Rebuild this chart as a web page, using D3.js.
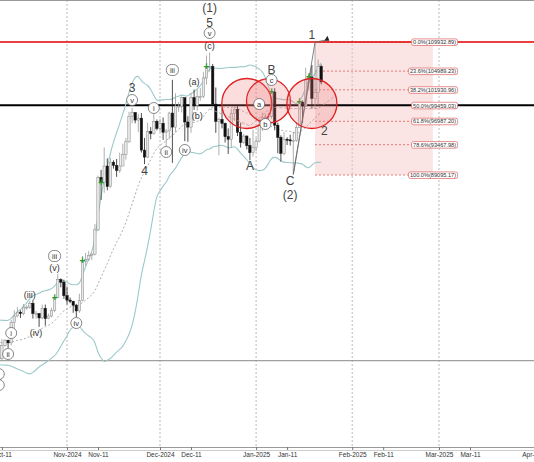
<!DOCTYPE html>
<html>
<head>
<meta charset="utf-8">
<script src="https://cdn.jsdelivr.net/npm/d3@7"></script>
<style>
body { margin: 0; background: #fff; }
text { font-family: "Liberation Sans", Arial, sans-serif; }
</style>
</head>
<body>
<div id="chart"></div>
<script>
// daily candles, first date 2024-09-19
var startDate = "2024-09-19";
var closes = [63000,63200,63300,63500,63300,64200,63100,65200,65800,65900,65600,63300,
  60800,60600,60700,62100,62100,62800,62200,62100,60600,60300,62400,63200,62800,66000,67000,67600,67400,68400,68400,69000,67400,67400,66700,68200,66600,67000,67900,69900,72700,72300,70200,
  69500,69300,68700,67800,69400,75600,75900,76500,76700,80500,88700,87900,90500,87300,91100,90600,89800,90500,92300,94300,98300,98900,97700,98000,93000,91900,95900,95600,97500,96400,
  97200,95800,96000,98800,96600,99900,99900,101200,97400,96600,101200,100000,101400,101400,104300,106000,106100,100200,97500,97800,97200,95100,94700,98700,99400,95800,94200,95200,93700,92600,93400,
  94400,96900,98100,98200,98300,102100,96900,95000,92500,94700,94600,94500,94500,96500,100500,99900,104100,104400,101100,102000,106100,103700];
var highs = [63900,64100,63600,64000,64700,64700,64800,65800,66500,66200,66100,65600,
  64100,62300,61400,62400,62300,63000,64400,63100,62500,61300,63400,63400,63300,66400,67900,68400,67900,68900,68700,69400,69500,67800,67400,68800,68800,67400,68300,70200,73600,72900,72700,
  71600,69900,69400,68900,70500,76400,76900,77200,76900,81400,89000,89900,93400,91700,91800,91400,91600,92600,94000,94900,99000,99600,98800,98600,98800,94900,97300,96600,98700,97800,
  97900,98100,96300,99000,104000,101900,100500,101400,101200,98300,101900,102500,102500,102700,105200,107800,108300,106500,102800,98100,99500,97300,96400,99500,99900,99900,97300,95500,95300,94900,96200,
  94900,97800,98900,98700,98800,102500,102700,97300,95300,95800,95000,95400,95900,97300,100700,100800,105900,104900,106300,109900,107200,106400];
var lows = [61600,62400,62800,62400,62700,62800,62700,62800,64800,65400,65400,62900,
  60200,59900,59900,60500,61700,61800,62100,61900,60300,58900,60100,62200,62000,62400,64800,66800,66700,67100,68000,68100,66600,66600,65300,66500,65500,66500,66800,67600,69800,71500,69700,
  68800,69000,67500,66800,67500,69300,74900,75600,75800,76500,80300,85200,86300,86700,87100,90100,88800,89400,90700,91500,94100,97200,97200,95800,92600,90800,91800,94700,95400,96100,
  95800,94600,93600,94700,91000,95800,99000,98900,94400,94300,95700,99300,99200,100700,101100,103300,105300,100000,95700,92200,96400,94200,92400,93400,97600,95200,93400,94000,93100,91400,92000,
  92800,94200,96000,97500,97300,97900,96100,92500,91200,92200,93800,93700,89200,94300,96500,97300,99900,102300,99500,99500,100100,103300];

// fibonacci retracement
var fibLevels = [0, 0.236, 0.382, 0.5, 0.618, 0.786, 1];
var fibLabels = ["0.0%(109932.89)","23.6%(104989.23)","38.2%(101930.96)","50.0%(99459.03)","61.8%(96987.20)","78.6%(93467.98)","100.0%(89095.17)"];
var fibPrices = [109932.89, 104989.23, 101930.96, 99459.03, 96987.20, 93467.98, 89095.17];
var fibHigh = 109932.89, fibLow = 89095.17;
var fibStart = "2025-01-20", fibEnd = "2025-02-27";

// wave labels: date, price, text, kind ("big", "paren", "circ", "box")
var waves = [
  ["2024-12-17",115260,"(1)","big"],["2024-12-17",113066,"5","big"],["2024-12-17",111342,"v","circ"],["2024-12-17",109306,"(c)","paren"],
  ["2024-11-22",102726,"3","big"],["2024-11-22",100846,"v","circ"],["2024-11-26",89877,"4","big"],
  ["2024-11-29",99592,"i","circ"],["2024-12-03",92699,"ii","circ"],["2024-12-05",105546,"iii","box"],["2024-12-09",93012,"iv","circ"],
  ["2024-12-12",103666,"(a)","paren"],["2024-12-13",98338,"(b)","paren"],
  ["2024-12-30",90660,"A","big"],["2025-01-06",105702,"B","big"],["2025-01-06",103979,"c","circ"],["2025-01-02",100219,"a","circ"],["2025-01-04",97085,"b","circ"],
  ["2025-01-12",88310,"C","big"],["2025-01-12",86117,"(2)","big"],["2025-01-19",111030,"1","big"],["2025-01-23",96145,"2","big"],
  ["2024-10-14",64340,"i","circ"],["2024-10-13",61049,"ii","circ"],["2024-10-20",70293,"(iii)","paren"],["2024-10-22",64340,"(iv)","paren"],
  ["2024-10-28",76404,"iii","box"],["2024-10-28",74524,"(v)","paren"],["2024-11-04",65907,"iv","circ"],
  ["2024-10-10",57906,"i","circ"],["2024-10-10",56182,"","circ"]
];
var plusDates = ["2024-10-28","2024-11-06","2024-11-12","2024-12-16","2025-01-06","2025-01-15","2025-01-18"];
var circles = [["2024-12-29",100300,25],["2025-01-05",100700,22],["2025-01-19",100300,25]];
var hLines = [[fibHigh,"#e00000",1.6],[99459.03,"#000",2],[60000,"#888",1]];

var W = 534, H = 462;
var parse = d3.utcParse("%Y-%m-%d");
var svg = d3.select("#chart").append("svg").attr("width", W).attr("height", H);

var x = d3.scaleUtc().domain([parse("2024-11-01"), parse("2024-12-01")]).range([67, 160]);
var y = d3.scaleLinear().domain([fibLow, fibHigh]).range([175, 42]);
// the fib tool spaces its levels on a log scale
var yf = d3.scaleLog().domain([fibLow, fibHigh]).range([175, 42]);

var day0 = parse(startDate);
var data = closes.map(function(c, i) {
  return { date: d3.utcDay.offset(day0, i), open: i ? closes[i-1] : c, close: c, high: highs[i], low: lows[i] };
});

svg.append("defs").append("clipPath").attr("id","clip").append("rect").attr("width", W).attr("height", 446);
var plot = svg.append("g").attr("clip-path","url(#clip)");

// month grid
var months = d3.utcMonth.range(parse("2024-10-01"), parse("2025-04-02"));
plot.selectAll(".grid").data(months).enter().append("line")
  .attr("x1", d => x(d)).attr("x2", d => x(d)).attr("y1", 0).attr("y2", 446)
  .attr("stroke", "#aaa").attr("stroke-dasharray", "2,2").attr("stroke-width", 0.8);

// fib box
var fx0 = x(parse(fibStart)), fx1 = x(parse(fibEnd));
plot.append("rect").attr("x", fx0).attr("y", yf(fibHigh)).attr("width", fx1 - fx0)
  .attr("height", yf(fibLow) - yf(fibHigh)).attr("fill", "#f4c4c4").attr("opacity", 0.45);
fibPrices.forEach(function(p) {
  plot.append("line").attr("x1", fx0).attr("x2", fx1).attr("y1", yf(p)).attr("y2", yf(p))
    .attr("stroke", "#e06060").attr("stroke-dasharray", "2,2").attr("stroke-width", 0.8);
});

// horizontal lines
plot.append("line").attr("x1", 0).attr("x2", W).attr("y1", yf(hLines[0][0])).attr("y2", yf(hLines[0][0])).attr("stroke", hLines[0][1]).attr("stroke-width", hLines[0][2]);
plot.append("line").attr("x1", 0).attr("x2", W).attr("y1", yf(hLines[1][0])).attr("y2", yf(hLines[1][0])).attr("stroke", hLines[1][1]).attr("stroke-width", hLines[1][2]);
plot.append("line").attr("x1", 0).attr("x2", W).attr("y1", y(hLines[2][0])).attr("y2", y(hLines[2][0])).attr("stroke", hLines[2][1]).attr("stroke-width", hLines[2][2]);

// bollinger bands (20, 2)
var bb = [];
data.forEach(function(d, i) {
  if (i < 19) return;
  var s = closes.slice(i - 19, i + 1), m = d3.mean(s), sd = d3.deviation(s) * Math.sqrt(19 / 20);
  bb.push({ date: d.date, m: m, up: m + 2 * sd, lo: m - 2 * sd });
});
var band = k => d3.line().x(d => x(d.date)).y(d => y(d[k])).curve(d3.curveBasis);
plot.append("path").datum(bb).attr("d", band("up")).attr("fill", "none").attr("stroke", "#9cc9c9").attr("stroke-width", 1.1);
plot.append("path").datum(bb).attr("d", band("lo")).attr("fill", "none").attr("stroke", "#9cc9c9").attr("stroke-width", 1.1);
plot.append("path").datum(bb).attr("d", band("m")).attr("fill", "none").attr("stroke", "#999").attr("stroke-dasharray", "2,2").attr("stroke-width", 0.8);

// candles
var cw = 2.4;
var c = plot.selectAll(".c").data(data).enter().append("g");
c.append("line").attr("x1", d => x(d.date)).attr("x2", d => x(d.date))
  .attr("y1", d => y(d.high)).attr("y2", d => y(d.low))
  .attr("stroke", d => d.close >= d.open ? "#999" : "#222").attr("stroke-width", 0.8);
c.append("rect").attr("x", d => x(d.date) - cw / 2).attr("width", cw)
  .attr("y", d => y(Math.max(d.open, d.close)))
  .attr("height", d => Math.max(1, Math.abs(y(d.open) - y(d.close))))
  .attr("fill", d => d.close >= d.open ? "#e8e8e8" : "#111")
  .attr("stroke", d => d.close >= d.open ? "#888" : "#111").attr("stroke-width", 0.5);

// wave path lines
var byDate = {}; data.forEach(d => byDate[d3.utcFormat("%Y-%m-%d")(d.date)] = d);
var zig = [[parse("2025-01-13"), 89200],[parse("2025-01-20"), 109900],[parse("2025-01-24"), 110300]];
plot.append("path").datum(zig).attr("d", d3.line().x(d => x(d[0])).y(d => y(d[1])))
  .attr("fill", "none").attr("stroke", "#666").attr("stroke-width", 0.8);
plot.append("path").datum([[parse("2025-01-13"), 89200],[parse("2025-01-19"), 106300]]).attr("d", d3.line().x(d => x(d[0])).y(d => y(d[1])))
  .attr("fill", "none").attr("stroke", "#666").attr("stroke-width", 0.8);
plot.append("path").attr("d", "M" + x(parse("2025-01-24")) + "," + (y(110300) - 4) + "l-3,5l5,0z").attr("fill", "#222");
plot.append("path").datum([[parse("2024-12-17"),99459],[parse("2024-12-30"),96800],[parse("2025-01-06"),99700],[parse("2025-01-13"),99500],[parse("2025-01-21"),99500],[parse("2025-01-26"),101300]])
  .attr("d", d3.line().x(d => x(d[0])).y(d => y(d[1]))).attr("fill", "none").attr("stroke", "#aaa").attr("stroke-dasharray", "3,2").attr("stroke-width", 0.8);

// green plus markers
plot.selectAll(".p").data(plusDates).enter().append("text")
  .attr("x", d => x(parse(d))).attr("y", d => y(byDate[d].close) + 3).attr("text-anchor", "middle")
  .attr("font-size", 10).attr("font-weight", "bold").attr("fill", "#2a9a2a").text("+");

// red circles
circles.forEach(function(k) {
  plot.append("circle").attr("cx", x(parse(k[0]))).attr("cy", y(k[1])).attr("r", k[2])
    .attr("fill", "rgba(240,120,120,0.25)").attr("stroke", "#e02020").attr("stroke-width", 1.3);
});

// fib labels
fibPrices.forEach(function(p, i) {
  var t = plot.append("text").attr("x", 456).attr("y", yf(p) + 2.2).attr("text-anchor", "end")
    .attr("font-size", 5.6).attr("fill", "#333").text(fibLabels[i]);
  var b = t.node().getBBox();
  plot.insert("rect", function() { return t.node(); }).attr("x", b.x - 1.5).attr("y", b.y - 0.3).attr("width", b.width + 3)
    .attr("height", b.height + 0.6).attr("rx", 2).attr("fill", "#fff").attr("stroke", "#e06060").attr("stroke-width", 0.7);
});

// wave labels
waves.forEach(function(w) {
  var px = x(parse(w[0])), py = y(w[1]);
  if (w[3] === "big") {
    plot.append("text").attr("x", px).attr("y", py + 4.5).attr("text-anchor", "middle")
      .attr("font-size", 12).attr("fill", "#444").text(w[2]);
  } else {
    if (w[3] !== "paren") {
      plot.append(w[3] === "box" ? "rect" : "circle")
        .attr("cx", px).attr("cy", py).attr("r", 5.5)
        .attr("x", px - 6).attr("y", py - 5.5).attr("width", 12).attr("height", 11).attr("rx", 5)
        .attr("fill", "#fff").attr("stroke", "#555").attr("stroke-width", 0.7);
    }
    plot.append("text").attr("x", px).attr("y", py + 2.7).attr("text-anchor", "middle")
      .attr("font-size", w[3] === "paren" ? 9 : 7.5).attr("fill", "#333")
      .attr("font-family", "Liberation Serif, serif").text(w[2]);
  }
});

// axis
svg.append("line").attr("x1", 0).attr("x2", W).attr("y1", 447.5).attr("y2", 447.5).attr("stroke", "#999");
svg.append("line").attr("x1", 0).attr("x2", W).attr("y1", 450.5).attr("y2", 450.5).attr("stroke", "#ccc");
var ticks = [];
months.forEach(function(m) { ticks.push(m); ticks.push(d3.utcDay.offset(m, 10)); });
var fmt = d => d.getUTCDate() === 1 ? d3.utcFormat("%b-%Y")(d) : d3.utcFormat("%b-11")(d);
var axis = d3.axisBottom(x).tickValues(ticks).tickFormat(fmt).tickSize(3);
var ag = svg.append("g").attr("transform", "translate(0,447)").call(axis);
ag.select(".domain").remove();
ag.selectAll("text").attr("font-size", 6.5).attr("fill", "#333").attr("dy", "0.6em");
ag.selectAll("line").attr("stroke", "#777");
svg.append("line").attr("x1", 0).attr("x2", W).attr("y1", 0.5).attr("y2", 0.5).attr("stroke", "#999");
</script>
</body>
</html>
